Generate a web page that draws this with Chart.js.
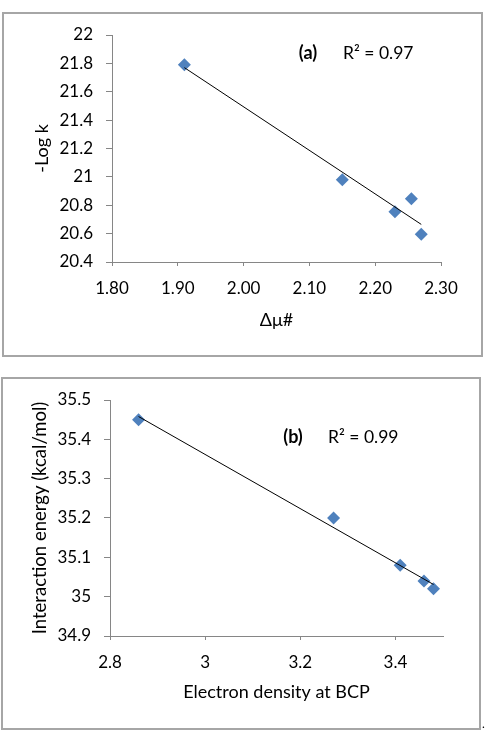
<!DOCTYPE html>
<html>
<head>
<meta charset="utf-8">
<script src="https://cdn.jsdelivr.net/npm/chart.js@4.4.0/dist/chart.umd.min.js"></script>
<style>
  body { margin: 0; background: #fff; width: 486px; height: 730px; position: relative; overflow: hidden; }
  .box { position: absolute; border: 2px solid #a6a6a6; box-sizing: border-box; }
  #boxA { left: 2px; top: 12px; width: 481px; height: 345px; }
  #boxB { left: 1px; top: 377px; width: 480px; height: 353px; }
  canvas { position: absolute; left: 0; }
  #chartA { top: 0; }
  #chartB { top: 360px; }
  #dot { position: absolute; left: 482px; top: 716px; font: 12px Lato; }
</style>
</head>
<body>
<div class="box" id="boxA"></div>
<div class="box" id="boxB"></div>
<canvas id="chartA" width="486" height="360"></canvas>
<canvas id="chartB" width="486" height="370"></canvas>
<div id="dot">.</div>
<script>
// Panel (a): -Log k vs delta mu#
const xA = [1.91, 2.15, 2.23, 2.255, 2.27];
const yA = [21.79, 20.98, 20.755, 20.846, 20.595];
const trendAx = [1.91, 2.27];
const trendAy = [21.77, 20.665];
const xTicksA = [1.8, 1.9, 2.0, 2.1, 2.2, 2.3];
const xLabelsA = ["1.80", "1.90", "2.00", "2.10", "2.20", "2.30"];
const yTicksA = [20.4, 20.6, 20.8, 21, 21.2, 21.4, 21.6, 21.8, 22];
const yLabelsA = ["20.4", "20.6", "20.8", "21", "21.2", "21.4", "21.6", "21.8", "22"];

// Panel (b): interaction energy vs electron density
const xB = [2.86, 3.27, 3.41, 3.46, 3.48];
const yB = [35.45, 35.2, 35.08, 35.04, 35.02];
const trendBx = [2.86, 3.48];
const trendBy = [35.458, 35.031];
const xTicksB = [2.8, 3.0, 3.2, 3.4];
const xLabelsB = ["2.8", "3", "3.2", "3.4"];
const yTicksB = [34.9, 35, 35.1, 35.2, 35.3, 35.4, 35.5];
const yLabelsB = ["34.9", "35", "35.1", "35.2", "35.3", "35.4", "35.5"];

Chart.defaults.font.family = "Lato";
Chart.defaults.color = "#000";

const axisGrey = "#868686";
const markerBlue = "#4f81bd";

function toPoints(xs, ys) {
  return xs.map((x, i) => ({ x: x, y: ys[i] }));
}

// draws the "(a)  R² = 0.97" style notes
const notePlugin = {
  id: "notes",
  afterDraw(chart, args, opts) {
    const ctx = chart.ctx;
    ctx.save();
    ctx.fillStyle = "#000";
    ctx.textBaseline = "middle";
    ctx.font = "bold 18px Lato";
    ctx.textAlign = "center";
    ctx.fillText(opts.tag, opts.tagX, opts.y);
    ctx.font = "17.5px Lato";
    ctx.textAlign = "left";
    ctx.fillText(opts.text, opts.textX, opts.y);
    ctx.restore();
  }
};

function makeChart(id, cfg) {
  const xScale = {
    type: "linear",
    min: cfg.xMin, max: cfg.xMax,
    afterBuildTicks: s => { s.ticks = cfg.xTicks.map(v => ({ value: v })); },
    afterFit: s => { s.height = cfg.xHeight; },
    grid: { drawOnChartArea: false, color: axisGrey, tickLength: 4 },
    border: { color: axisGrey },
    ticks: { font: { size: 17 }, padding: 12, callback: (v, i) => cfg.xLabels[i] },
    title: { display: true, text: cfg.xTitle, font: { size: 18 }, padding: { top: 0, bottom: cfg.xTitlePad } }
  };
  const yScale = {
    type: "linear",
    min: cfg.yMin, max: cfg.yMax,
    afterBuildTicks: s => { s.ticks = cfg.yTicks.map(v => ({ value: v })); },
    afterFit: s => { s.width = cfg.yWidth; },
    grid: { drawOnChartArea: false, color: axisGrey, tickLength: 6 },
    border: { color: axisGrey },
    ticks: { font: { size: 17 }, padding: 13, callback: (v, i) => cfg.yLabels[i] },
    title: { display: true, text: cfg.yTitle, font: { size: cfg.yTitleSize }, padding: { top: cfg.yTitlePad, bottom: 0 } }
  };
  return new Chart(document.getElementById(id), {
    type: "scatter",
    data: {
      datasets: [
        {
          label: "Linear",
          data: toPoints(cfg.trendX, cfg.trendY),
          showLine: true,
          borderColor: "#000",
          borderWidth: 1,
          pointRadius: 0
        },
        {
          label: "Data",
          data: toPoints(cfg.xs, cfg.ys),
          pointStyle: "rectRot",
          pointRadius: 6.5,
          backgroundColor: markerBlue,
          borderColor: markerBlue,
          borderWidth: 0
        }
      ]
    },
    options: {
      responsive: false,
      animation: false,
      devicePixelRatio: 1,
      layout: { padding: cfg.padding },
      scales: { x: xScale, y: yScale },
      plugins: {
        legend: { display: false },
        tooltip: { enabled: false },
        notes: cfg.notes
      }
    },
    plugins: [notePlugin]
  });
}

makeChart("chartA", {
  xs: xA, ys: yA, trendX: trendAx, trendY: trendAy,
  xMin: 1.8, xMax: 2.3, yMin: 20.4, yMax: 22,
  xTicks: xTicksA, xLabels: xLabelsA, yTicks: yTicksA, yLabels: yLabelsA,
  xTitle: "\u0394\u03bc#", yTitle: "-Log k", yTitleSize: 18,
  padding: { left: 0, top: 35, right: 45, bottom: 0 },
  xHeight: 98, yWidth: 112, xTitlePad: 29, yTitlePad: 31,
  notes: { tag: "(a)", tagX: 308, text: "R\u00b2 = 0.97", textX: 343, y: 53 }
});

makeChart("chartB", {
  xs: xB, ys: yB, trendX: trendBx, trendY: trendBy,
  xMin: 2.8, xMax: 3.5, yMin: 34.9, yMax: 35.5,
  xTicks: xTicksB, xLabels: xLabelsB, yTicks: yTicksB, yLabels: yLabelsB,
  xTitle: "Electron density at BCP", yTitle: "Interaction energy (kcal/mol)", yTitleSize: 18.5,
  padding: { left: 0, top: 40, right: 43, bottom: 0 },
  xHeight: 94, yWidth: 110, xTitlePad: 27, yTitlePad: 29,
  notes: { tag: "(b)", tagX: 293, text: "R\u00b2 = 0.99", textX: 328, y: 77 }
});
</script>
</body>
</html>
